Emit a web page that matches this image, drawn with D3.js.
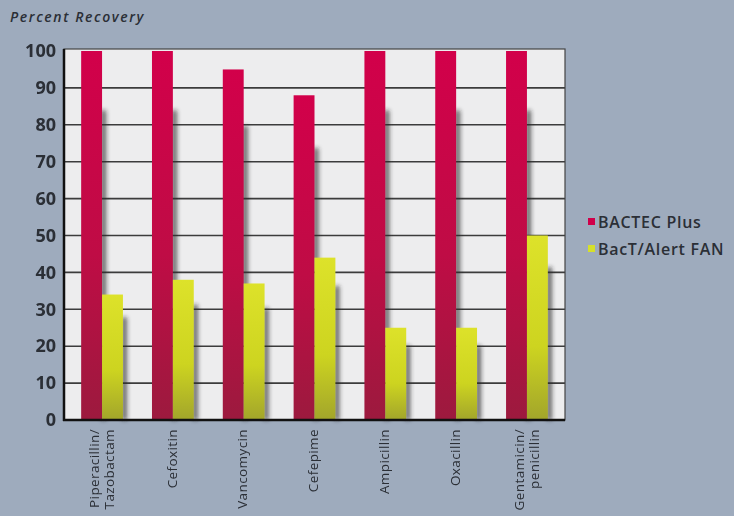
<!DOCTYPE html>
<html><head><meta charset="utf-8">
<script src="https://cdn.jsdelivr.net/npm/d3@7"></script>
<style>body{margin:0;background:#9eabbd;} svg{display:block;}</style>
</head><body>
<svg id="c" width="734" height="516"></svg>
<script>
const categories = [["Piperacillin/","Tazobactam"],["Cefoxitin"],["Vancomycin"],["Cefepime"],["Ampicillin"],["Oxacillin"],["Gentamicin/","penicillin"]];
const seriesNames = ["BACTEC Plus","BacT/Alert FAN"];
const bactecPlus = [100,100,95,88,100,100,100];
const bactAlertFan = [34,38,37,44,25,25,50];
const yTicks = [0,10,20,30,40,50,60,70,80,90,100];
const yTitle = "Percent Recovery";

const svg = d3.select("#c");
const W=734,H=516;
svg.append("rect").attr("width",W).attr("height",H).attr("fill","#9eabbd");
const pL=64,pR=565,pT=49,pB=420;
const x = d3.scaleBand().domain(d3.range(categories.length)).range([pL+3,pR-3]).paddingInner(0.41).paddingOuter(0.2);
const x1 = d3.scaleBand().domain([0,1]).range([0,x.bandwidth()]);
const y = d3.scaleLinear().domain([0,100]).range([pB,pT+2]);

const defs = svg.append("defs");
const gr = defs.append("linearGradient").attr("id","gr").attr("x1",0).attr("y1",0).attr("x2",0).attr("y2",1);
gr.append("stop").attr("offset","0%").attr("stop-color","#d2004a");
gr.append("stop").attr("offset","55%").attr("stop-color","#bf0c45");
gr.append("stop").attr("offset","100%").attr("stop-color","#9c1a3e");
const gy = defs.append("linearGradient").attr("id","gy").attr("x1",0).attr("y1",0).attr("x2",0).attr("y2",1);
gy.append("stop").attr("offset","0%").attr("stop-color","#dde22a");
gy.append("stop").attr("offset","60%").attr("stop-color","#cdd420");
gy.append("stop").attr("offset","100%").attr("stop-color","#a2a52b");
const fl = defs.append("filter").attr("id","bl").attr("x","-50%").attr("y","-50%").attr("width","200%").attr("height","200%");
fl.append("feGaussianBlur").attr("stdDeviation",2);

// plot background
svg.append("rect").attr("x",pL).attr("y",pT).attr("width",pR-pL).attr("height",pB-pT).attr("fill","#ededee");
// gridlines
svg.append("g").selectAll("line").data(yTicks.filter(d=>d>0&&d<100)).join("line")
  .attr("x1",pL).attr("x2",pR).attr("y1",d=>y(d)).attr("y2",d=>y(d))
  .attr("stroke","#3c3c3c").attr("stroke-width",1.6);

const series=[bactecPlus,bactAlertFan];
const fills=["url(#gr)","url(#gy)"];
// shadows
series.forEach((s,si)=>{
  svg.append("g").attr("filter","url(#bl)").selectAll("rect").data(s).join("rect")
    .attr("x",(d,i)=>x(i)+x1(si)+x1.bandwidth()-1)
    .attr("y",d=>y(d)+ (pB-y(d))*0.15+4)
    .attr("width",5).attr("height",d=>pB-y(d)-(pB-y(d))*0.15-4)
    .attr("fill","#2a2a2a").attr("opacity",0.7);
});
series.forEach((s,si)=>{
  svg.append("g").selectAll("rect").data(s).join("rect")
    .attr("x",(d,i)=>x(i)+x1(si)).attr("y",d=>y(d))
    .attr("width",x1.bandwidth()).attr("height",d=>pB-y(d))
    .attr("fill",fills[si]);
});
// frame
svg.append("rect").attr("x",pL).attr("y",pT).attr("width",pR-pL).attr("height",pB-pT)
  .attr("fill","none").attr("stroke","#444").attr("stroke-width",1.2);
svg.append("line").attr("x1",pL).attr("x2",pL).attr("y1",pT).attr("y2",pB+1).attr("stroke","#111").attr("stroke-width",2.5);
svg.append("line").attr("x1",pL-1).attr("x2",pR).attr("y1",pB).attr("y2",pB).attr("stroke","#111").attr("stroke-width",2.5);

const font="'Open Sans', sans-serif", ink="#2b2f36";
// y axis labels
const ya = svg.append("g").attr("transform",`translate(${pL},0)`).call(d3.axisLeft(y).tickValues(yTicks).tickSize(0).tickPadding(8));
ya.select(".domain").remove();
ya.selectAll("text").attr("font-family",font).attr("font-size",18).attr("font-weight",700).attr("fill",ink);

// x labels
const xl = svg.append("g").selectAll("text").data(categories).join("text")
  .attr("transform",(d,i)=>`translate(${x(i)+x.bandwidth()/2 + (d.length>1?-8:-1)},${pB+9}) rotate(-90)`)
  .attr("text-anchor","end").attr("font-family",font).attr("font-size",13.5).attr("letter-spacing",0.4).attr("fill",ink);
xl.each(function(d){
  const t=d3.select(this);
  d.forEach((line,k)=>t.append("tspan").attr("x",0).attr("dy",k===0?"0.35em":"1.15em").text(line));
});

// y title
svg.append("text").attr("x",10).attr("y",22).text(yTitle)
  .attr("font-family",font).attr("font-size",14).attr("font-style","italic").attr("font-weight",600)
  .attr("letter-spacing",1.6).attr("fill",ink);

// legend
const lc=["#d0004a","#d6e02a"];
const lg = svg.append("g").selectAll("g").data(seriesNames).join("g")
  .attr("transform",(d,i)=>`translate(588,${222+i*27})`);
lg.append("rect").attr("x",0).attr("y",-4).attr("width",7).attr("height",7).attr("fill",(d,i)=>lc[i]);
lg.append("text").attr("x",10).attr("y",0).attr("dy","0.35em").text(d=>d)
  .attr("font-family",font).attr("font-size",16).attr("font-weight",600).attr("letter-spacing",0.7).attr("fill",ink);
</script>
</body></html>
